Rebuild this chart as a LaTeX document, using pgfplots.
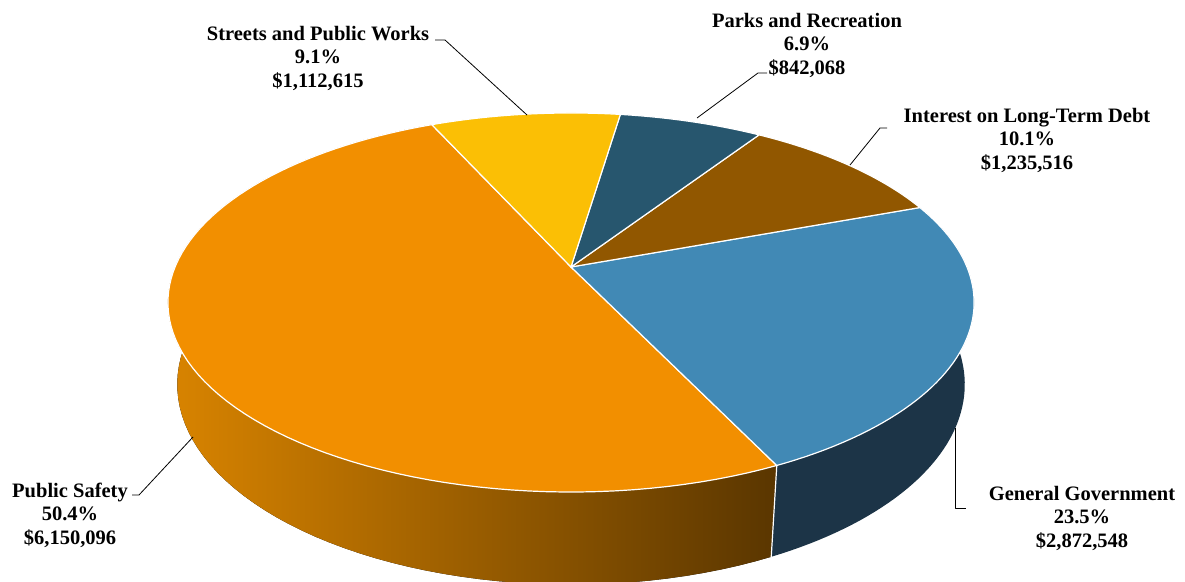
\documentclass[border=0pt]{standalone}
\usepackage{pgfplots}
\pgfplotsset{compat=1.18}
\usepgfplotslibrary{fillbetween}
\usepackage{fontspec}
\setmainfont{Liberation Serif}

\definecolor{cPS}{HTML}{F28F00}
\definecolor{cGG}{HTML}{4189B5}
\definecolor{cInt}{HTML}{915700}
\definecolor{cParks}{HTML}{27566E}
\definecolor{cStreets}{HTML}{FBBF05}
\definecolor{cGGside}{HTML}{1C3447}
\definecolor{cPSsideL}{HTML}{D98400}
\definecolor{cPSsideR}{HTML}{5A3600}

% expenses, in thousands of dollars
\def\vStreets{1112.615}
\def\vParks{842.068}
\def\vInt{1235.516}
\def\vGG{2872.548}
\def\vPS{6150.096}

\begin{document}
\begin{tikzpicture}[
  declare function={
    dT(\t)=4.735+0.887*sin(\t);
    xT(\t)=571+1875*cos(\t)/dT(\t);
    yT(\t)=314+865.9*sin(\t)/dT(\t);
    dB(\t)=4.735+0.887*sin(\t)+0.1085;
    xB(\t)=571+1875*cos(\t)/dB(\t);
    yB(\t)=314+(865.9*sin(\t)-390.8)/dB(\t);
  }]
\pgfmathsetmacro{\tot}{\vStreets+\vParks+\vInt+\vGG+\vPS}
\pgfmathsetmacro{\aZ}{114.3}
\pgfmathsetmacro{\aA}{\aZ-360*(\vStreets/\tot)}
\pgfmathsetmacro{\aB}{\aA-360*(\vParks/\tot)}
\pgfmathsetmacro{\aC}{\aB-360*(\vInt/\tot)}
\pgfmathsetmacro{\aD}{\aC-360*(\vGG/\tot)}
\pgfmathsetmacro{\aE}{\aZ-360}
\begin{axis}[
  width=1185pt, height=581pt, scale only axis,
  xmin=0, xmax=1185, ymin=0, ymax=581,
  hide axis, clip=false,
  every axis plot/.append style={line join=round},
]
% sides
\addplot[name path=psT, draw=none, domain=\aE:\aD, samples=80, variable=\t] ({xT(\t)},{yT(\t)});
\addplot[name path=psB, draw=none, domain=\aE:\aD, samples=80, variable=\t] ({xB(\t)},{yB(\t)});
\addplot[left color=cPSsideL, right color=cPSsideR, draw=none] fill between[of=psT and psB];
\addplot[name path=ggT, draw=none, domain=\aD:\aC, samples=60, variable=\t] ({xT(\t)},{yT(\t)});
\addplot[name path=ggB, draw=none, domain=\aD:\aC, samples=60, variable=\t] ({xB(\t)},{yB(\t)});
\addplot[fill=cGGside, draw=none] fill between[of=ggT and ggB];
\addplot[white, line width=1.2pt, samples at={0,1}, variable=\s]
  ({(1-\s)*xT(\aD)+\s*xB(\aD)},{(1-\s)*yT(\aD)+\s*yB(\aD)});
% top faces
\addplot[fill=cPS, draw=white, line width=1.2pt, domain=\aE:\aD, samples=90, variable=\t]
  ({xT(\t)},{yT(\t)}) -- (axis cs:571,314) -- cycle;
\addplot[fill=cGG, draw=white, line width=1.2pt, domain=\aD:\aC, samples=60, variable=\t]
  ({xT(\t)},{yT(\t)}) -- (axis cs:571,314) -- cycle;
\addplot[fill=cInt, draw=white, line width=1.2pt, domain=\aC:\aB, samples=30, variable=\t]
  ({xT(\t)},{yT(\t)}) -- (axis cs:571,314) -- cycle;
\addplot[fill=cParks, draw=white, line width=1.2pt, domain=\aB:\aA, samples=30, variable=\t]
  ({xT(\t)},{yT(\t)}) -- (axis cs:571,314) -- cycle;
\addplot[fill=cStreets, draw=white, line width=1.2pt, domain=\aA:\aZ, samples=30, variable=\t]
  ({xT(\t)},{yT(\t)}) -- (axis cs:571,314) -- cycle;
% leader lines
\addplot[black, line width=0.8pt] coordinates {(132,86) (139,86) (193,144)};
\addplot[black, line width=0.8pt] coordinates {(955,153) (955,73) (966,73)};
\addplot[black, line width=0.8pt] coordinates {(850,416) (880,453) (887,453)};
\addplot[black, line width=0.8pt] coordinates {(697,463) (758,508) (767,508)};
\addplot[black, line width=0.8pt] coordinates {(527,466) (445,541) (435,541)};
% labels
\begin{scope}[every node/.style={align=center, font=\bfseries\fontsize{20.5}{23.5}\selectfont, inner sep=0pt}]
\node at (axis cs:70,66) {Public Safety\\50.4\%\\\$6,150,096};
\node at (axis cs:1082,63) {General Government\\23.5\%\\\$2,872,548};
\node at (axis cs:1027,441) {Interest on Long-Term Debt\\10.1\%\\\$1,235,516};
\node at (axis cs:807,536) {Parks and Recreation\\6.9\%\\\$842,068};
\node at (axis cs:318,523) {Streets and Public Works\\9.1\%\\\$1,112,615};
\end{scope}
\end{axis}
\pgfresetboundingbox
\path (current axis.south west) rectangle (current axis.north east);
\end{tikzpicture}
\end{document}
